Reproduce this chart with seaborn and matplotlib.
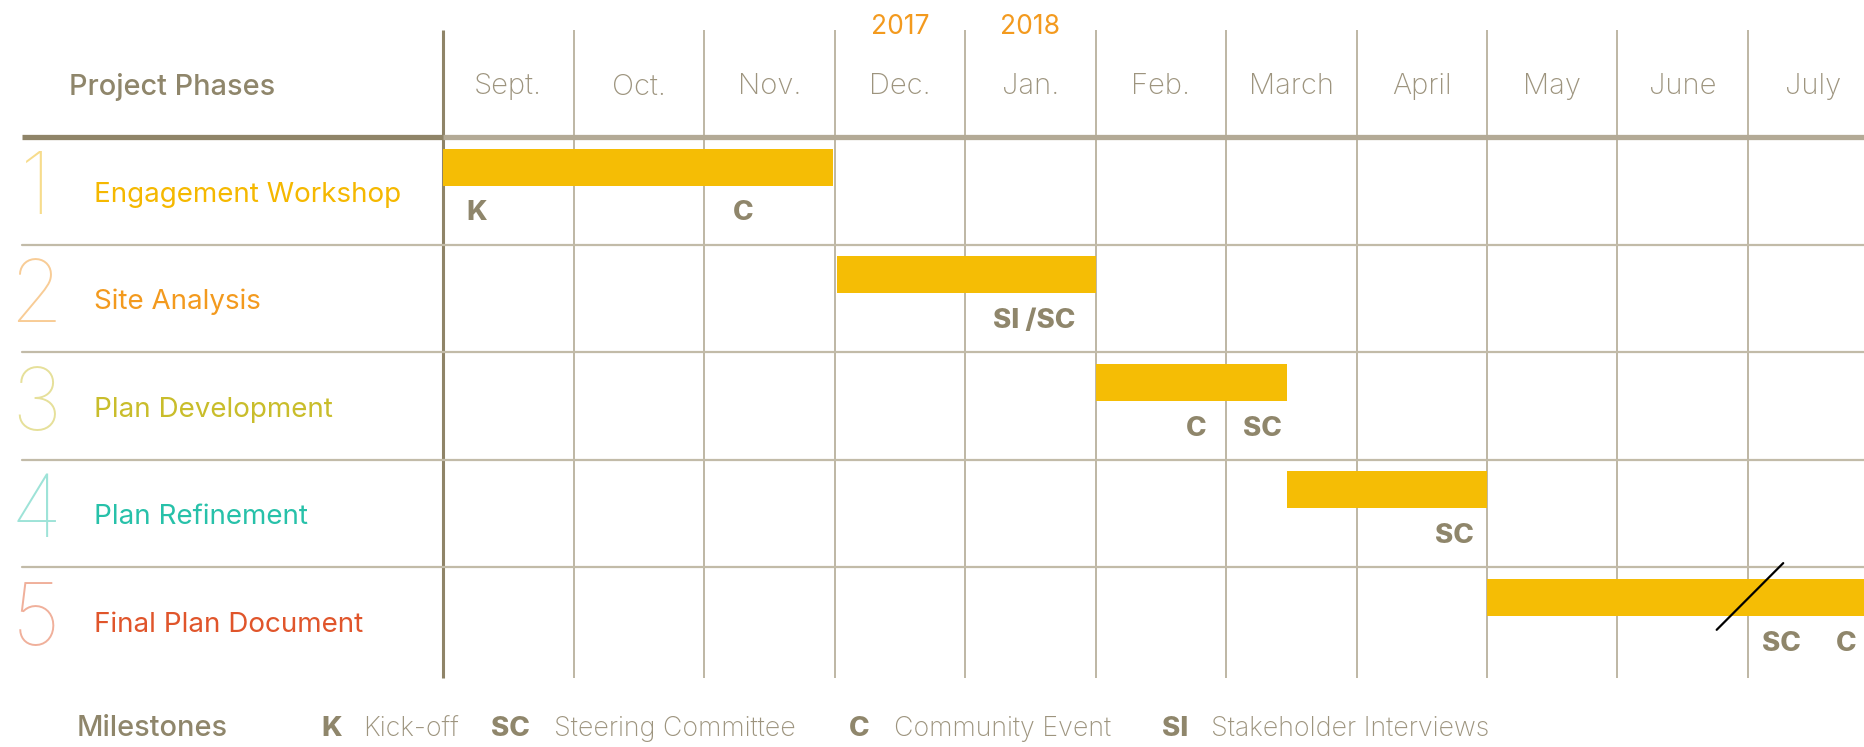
import matplotlib
matplotlib.use("Agg")
import matplotlib.pyplot as plt
import seaborn as sns

# ---- data ----
months = ["Sept.", "Oct.", "Nov.", "Dec.", "Jan.", "Feb.", "March", "April", "May", "June", "July"]
years = ["2017", "2018"]
year_month = [3, 4]            # index of month under which the year sits
phases = ["Engagement Workshop", "Site Analysis", "Plan Development",
          "Plan Refinement", "Final Plan Document"]
phase_num = ["1", "2", "3", "4", "5"]
phase_start = [0.0, 3.02, 5.0, 6.47, 8.0]
phase_end = [2.99, 5.0, 6.47, 8.0, 11.0]

# milestones: (phase row, month position, label)
ms_row = [0, 0, 1, 2, 2, 3, 4, 4]
ms_pos = [0.26, 2.30, 4.53, 5.77, 6.28, 7.75, 10.26, 10.75]
ms_lab = ["K", "C", "SI /SC", "C", "SC", "SC", "SC", "C"]

legend_codes = ["K", "SC", "C", "SI"]
legend_names = ["Kick-off", "Steering Committee", "Community Event", "Stakeholder Interviews"]

break_at = 10.0   # June / July boundary (time break)

# ---- style ----
BAR = "#f5bd05"
TAUPE = "#8f866b"
GRID = "#c2bba8"
MONTH_C = "#9d947e"
phase_col = ["#f5b800", "#f39a1e", "#c9bd2b", "#27c1a9", "#e0552b"]
num_col = ["#f7dc8c", "#f8cc96", "#e6e09a", "#9ee3d8", "#f0b09b"]

sns.set_theme(style="white")
plt.rcParams["font.family"] = ["Inter", "DejaVu Sans"]

fig = plt.figure(figsize=(18.64, 7.47), dpi=100)
ax = fig.add_axes([0, 0, 1, 1])
xmax = 10.889
x_left = -3.23
ax.set_xlim(-3.395, xmax)
ax.set_ylim(5.169, -1.773)
ax.axis("off")

nrow = len(phases)

# vertical month lines
for i in range(len(months)):
    ax.plot([i, i], [-1.49, nrow - 0.47],
            color="#8f8468" if i == 0 else "#b9b19d",
            lw=2.2 if i == 0 else 1.3, zorder=1, solid_capstyle="butt")

# row separators
for r in range(1, nrow):
    ax.plot([x_left, xmax], [r - 0.5, r - 0.5], color=GRID, lw=1.6, zorder=1)

# header line
ax.plot([x_left, 0], [-0.5, -0.5], color="#8f8468", lw=3.8, zorder=2, solid_capstyle="butt")
ax.plot([0, xmax], [-0.5, -0.5], color="#b3aa96", lw=3.8, zorder=2, solid_capstyle="butt")

# bars
rows = list(range(nrow))
widths = [e - s for s, e in zip(phase_start, phase_end)]
ax.barh([r - 0.22 for r in rows], widths, left=phase_start, height=0.345,
        color=BAR, edgecolor="none", zorder=3)

# time break slash on the last bar
ax.plot([break_at - 0.24, break_at + 0.27], [nrow - 1 + 0.08, nrow - 1 - 0.54],
        color="black", lw=1.6, zorder=4)

# month and year headers
for i, m in enumerate(months):
    ax.text(i + 0.5, -0.965, m, ha="center", va="center", fontsize=21,
            fontweight=200, color=MONTH_C)
for y, mi in zip(years, year_month):
    ax.text(mi + 0.5, -1.52, y, ha="center", va="center", fontsize=19,
            fontweight=400, color="#f39a1e")

ax.text(-2.866, -0.965, "Project Phases", ha="left", va="center", fontsize=20.8,
        fontweight=500, color=TAUPE)

# phase names + big thin numbers
for r in rows:
    ax.text(-3.12, r + 0.01, phase_num[r], ha="center", va="center", fontsize=62,
            fontweight=100, color=num_col[r])
    ax.text(-2.674, r + 0.035, phases[r], ha="left", va="center", fontsize=20,
            fontweight=400, color=phase_col[r])

# milestone codes
for r, p, lab in zip(ms_row, ms_pos, ms_lab):
    ax.text(p, r + 0.21, lab, ha="center", va="center", fontsize=20,
            fontweight=800, color=TAUPE)

# bottom legend
ly = 5.0
ax.text(-2.805, ly, "Milestones", ha="left", va="center", fontsize=20.8,
        fontweight=500, color=TAUPE)
code_x = [-0.935, 0.368, 3.11, 5.506]
name_x = [-0.616, 0.851, 3.456, 5.888]
for cx, nx, c, n in zip(code_x, name_x, legend_codes, legend_names):
    ax.text(cx, ly, c, ha="left", va="center", fontsize=20, fontweight=800, color=TAUPE)
    ax.text(nx, ly, n, ha="left", va="center", fontsize=19.3, fontweight=200,
            color=MONTH_C)

fig.savefig("out.png", dpi=100, facecolor="white")
